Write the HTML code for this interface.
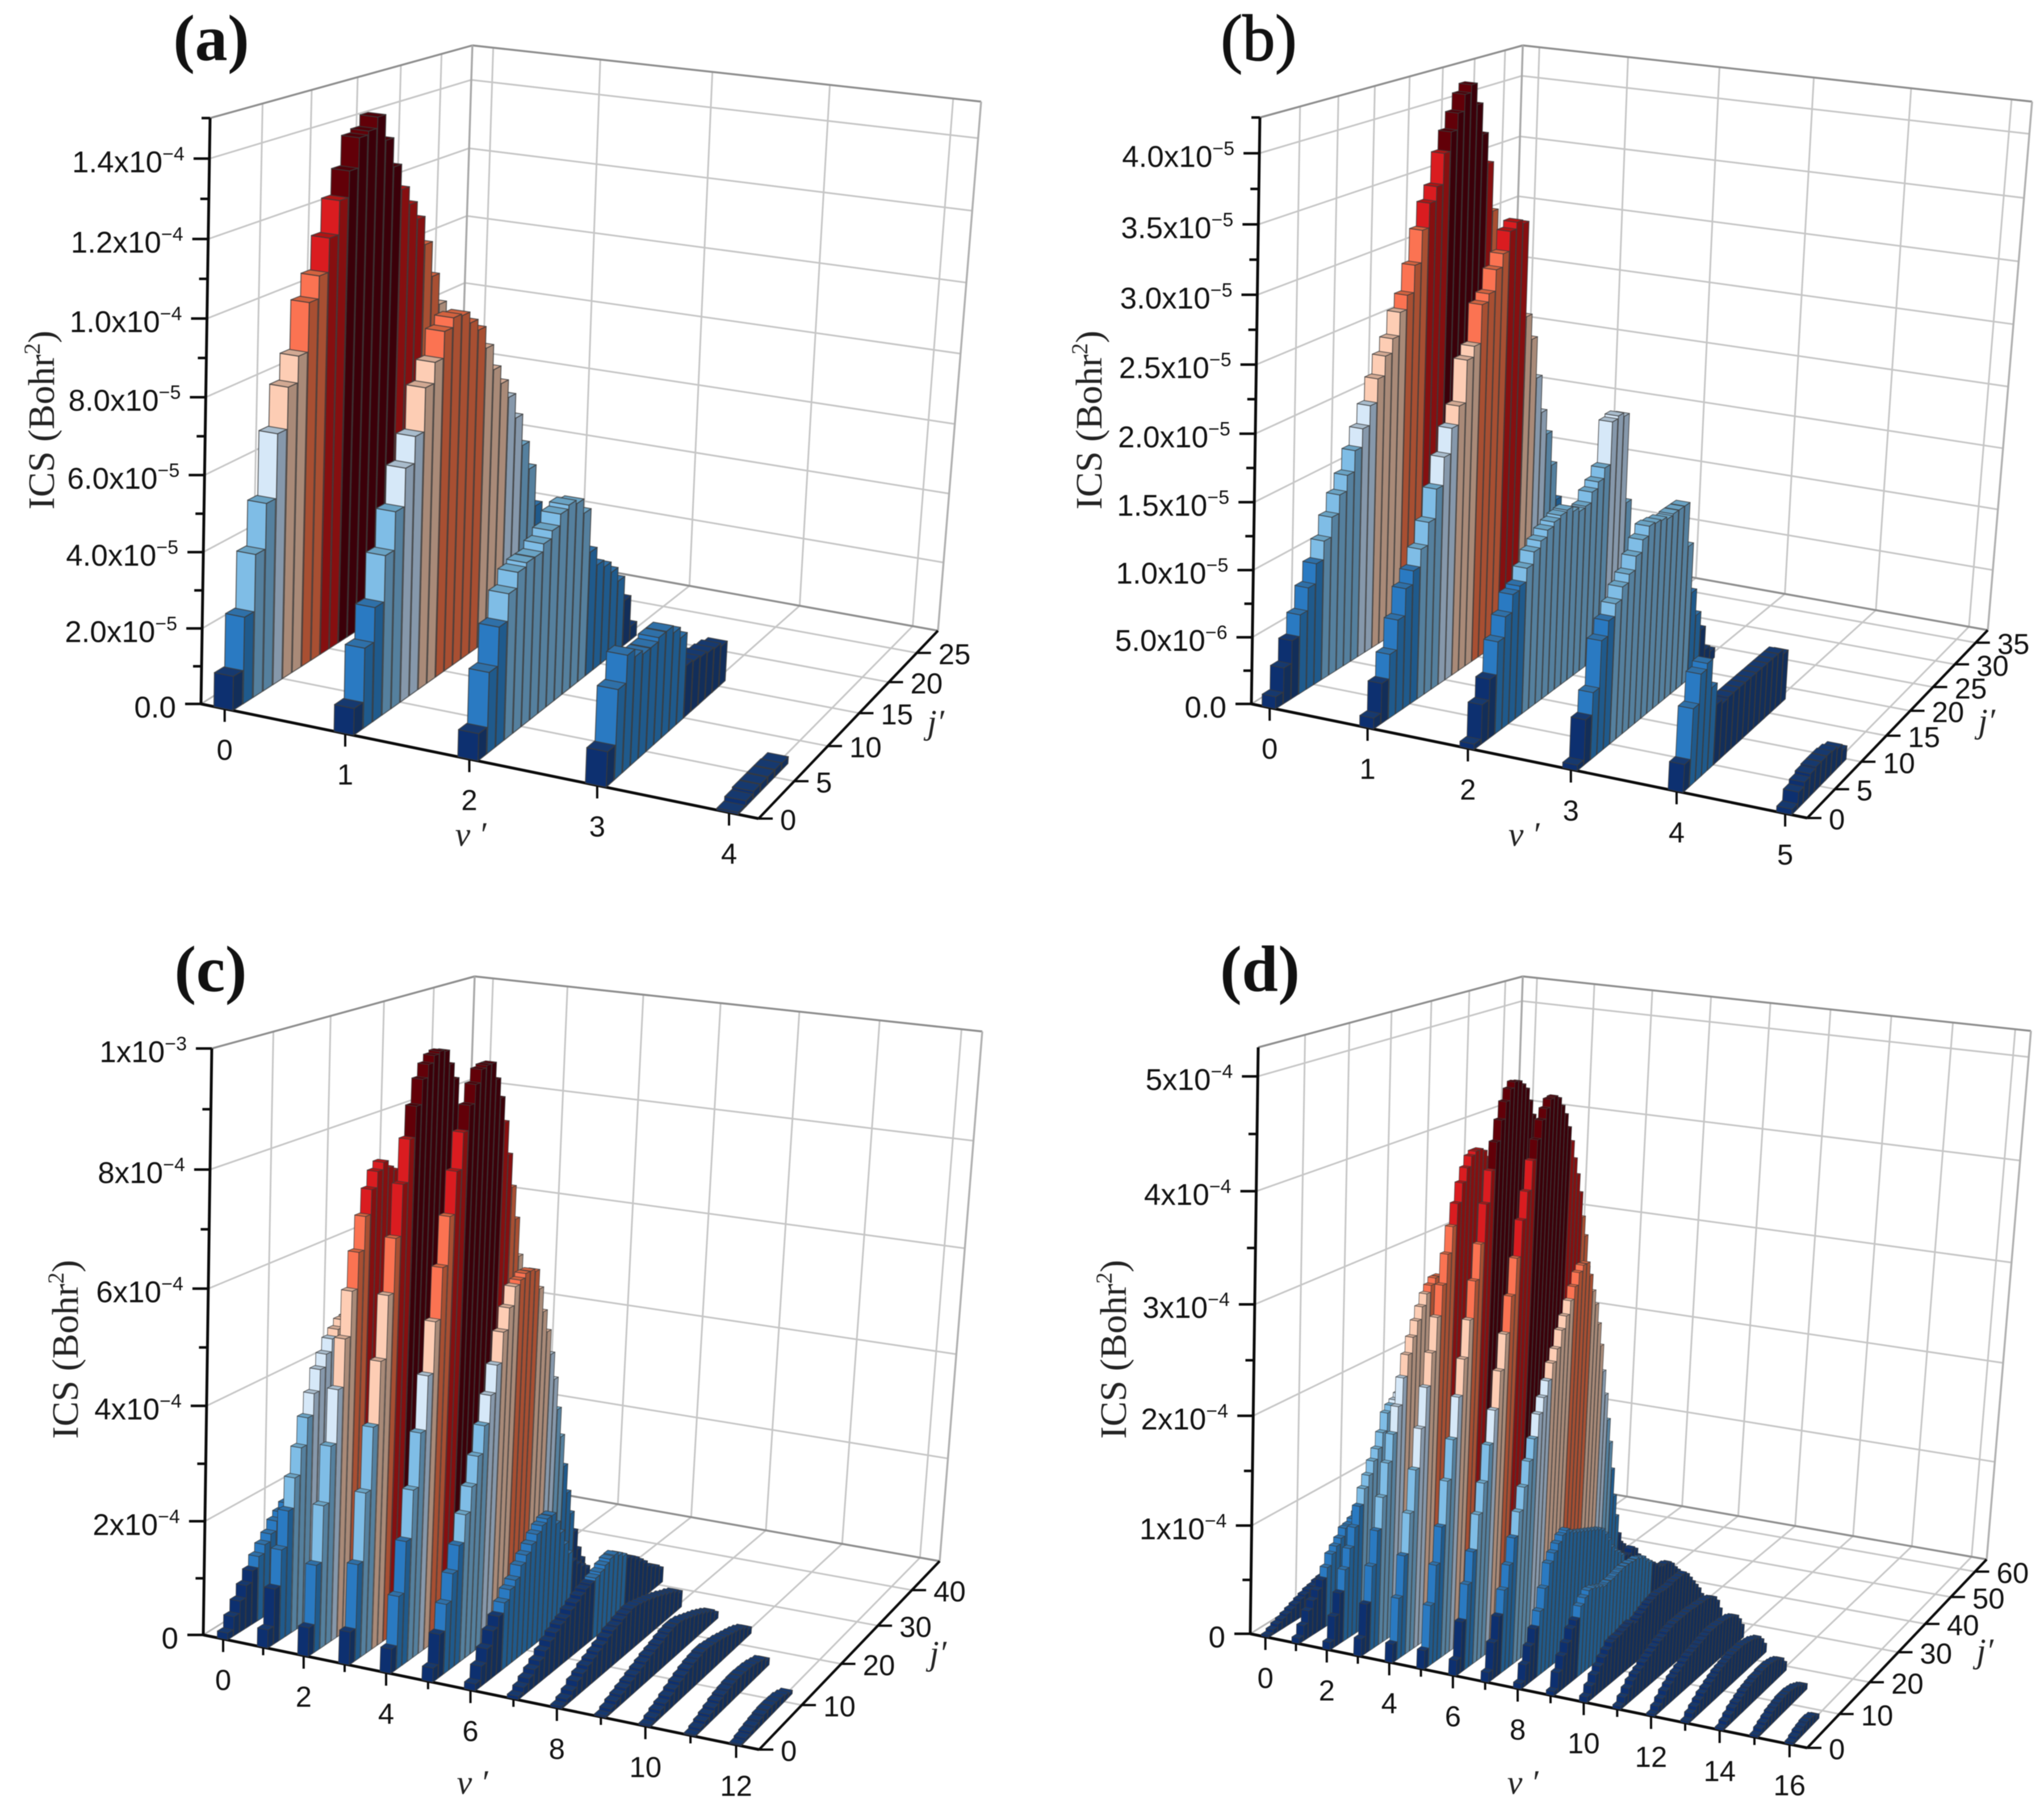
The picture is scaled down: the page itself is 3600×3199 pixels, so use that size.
<!DOCTYPE html>
<html lang="en">
<head>
<meta charset="utf-8">
<title>ICS bar charts</title>
<style>
html,body{margin:0;padding:0;background:#fff;}
svg{display:block;filter:blur(0.7px);}
.num{font-family:"Liberation Sans",Arial,sans-serif;fill:#111;}
.ser{font-family:"Liberation Serif","Times New Roman",serif;fill:#222;}
</style>
</head>
<body>
<svg id="figure" xmlns="http://www.w3.org/2000/svg" width="3600" height="3199" viewBox="0 0 3600 3199">
<rect width="3600" height="3199" fill="#fff"/>
</svg>
<script>
// ---- panel (a): ICS in units of 1e-5 Bohr^2, one array per v', index = j'
const a_v0=[.9,2.3,3.8,5.0,6.7,7.8,8.5,9.8,10.4,11.3,12.2,12.9,13.7,13.8,14.1,13.4,12.6,11.9,11.4,10.9,10.1,9.1,8.2,7.0,5.5,4.0,2.0];
const a_v1=[.7,2.1,3.0,4.2,5.2,6.2,6.9,8.05,8.6,9.3,9.55,9.5,9.2,8.9,8.3,7.6,7.1,6.6,5.9,5.0,4.2,3.0,1.5];
const a_v2=[.7,2.1,3.1,3.8,4.2,4.3,4.3,4.5,4.7,5.0,5.1,5.0,4.6,3.4,2.9,2.7,2.4,2.0,1.3,.4];
const a_v3=[.9,2.3,3.0,2.8,2.7,2.7,2.8,2.8,2.6,2.3,1.4,1.35,1.3,1.25,1.2,1.1];
const a_v4=[.05,.15,.2,.2,.2,.2,.18];
const a_yTicks=[0,2,4,6,8,10,12,14];
const a_yMinor=[1,3,5,7,9,11,13,15];
const a_yMant=["0.0","2.0x10","4.0x10","6.0x10","8.0x10","1.0x10","1.2x10","1.4x10"];
const a_yExp=["","\u22125","\u22125","\u22125","\u22125","\u22124","\u22124","\u22124"];
const a_vTicks=[0,1,2,3,4];
const a_vLabels=[0,1,2,3,4];
const a_jTicks=[0,5,10,15,20,25];

// ---- panel (b): units of 1e-5
const b_v0=[.09,.27,.44,.6,.77,.92,1.06,1.21,1.35,1.47,1.63,1.77,1.92,2.1,2.25,2.36,2.54,2.65,2.86,3.11,3.3,3.41,3.65,3.8,3.93,4.06,4.12,3.95,3.7,3.45,3.05,2.8,2.4,1.9,1.5,1.0,.5];
const b_v1=[.08,.3,.48,.7,.9,1.0,1.13,1.3,1.52,1.73,1.92,2.06,2.38,2.46,2.75,2.81,2.97,3.07,3.22,3.27,3.24,2.5,2.3,1.97,1.67,1.47,1.19,.88,.6,.4,.3,.2];
const b_v2=[.04,.29,.44,.68,.83,.96,.99,1.09,1.18,1.23,1.28,1.31,1.33,1.34,1.3,1.27,1.28,1.36,1.41,1.49,1.82,1.84,1.81,1.1,.7,.4,.2];
const b_v3=[.04,.33,.49,.83,.94,1.03,1.12,1.18,1.28,1.37,1.44,1.43,1.42,1.40,1.41,1.41,1.41,1.07,.68,.47,.32,.13,.08];
const b_v4=[.2,.56,.77,.81,.6,.44,.41,.42,.42,.42,.42,.42,.42,.42,.42,.42,.42,.38];
const b_v5=[.04,.12,.15,.17,.18,.18,.18,.17,.15,.1];
const b_yTicks=[0,.5,1,1.5,2,2.5,3,3.5,4];
const b_yMinor=[.25,.75,1.25,1.75,2.25,2.75,3.25,3.75,4.25];
const b_yMant=["0.0","5.0x10","1.0x10","1.5x10","2.0x10","2.5x10","3.0x10","3.5x10","4.0x10"];
const b_yExp=["","\u22126","\u22125","\u22125","\u22125","\u22125","\u22125","\u22125","\u22125"];
const b_vTicks=[0,1,2,3,4,5];
const b_vLabels=[0,1,2,3,4,5];
const b_jTicks=[0,5,10,15,20,25,30,35];

// ---- panel (c): units of 1e-4
const c_v0=[.12,.34,.55,.76,.96,1.15,1.3,1.43,1.6,1.7,1.8,1.9,2.0,2.1,2.15,2.15,2.1,2.0,1.8,1.6,1.4,1.2,1.0,.8,.6,.4,.3,.2,.1];
const c_v1=[.32,.97,1.59,2.21,2.73,3.2,3.67,4.04,4.41,4.63,4.85,4.97,5.09,5.11,5.08,4.9,4.72,4.4,4.0,3.55,3.1,2.6,2.15,1.7,1.3,.95,.65,.4,.2,.1];
const c_v2=[.5,1.52,2.49,3.46,4.38,5.2,5.97,6.59,7.16,7.58,7.85,7.97,7.84,7.76,7.48,7.1,6.62,6.0,5.3,4.55,3.9,3.25,2.65,2.1,1.65,1.25,.9,.6,.4,.25,.1];
const c_v3=[.57,1.67,2.84,3.91,4.98,6.05,6.97,7.84,8.56,9.08,9.5,9.72,9.84,9.88,9.85,9.6,9.32,8.8,8.2,7.5,6.8,5.95,5.1,4.25,3.4,2.7,2.05,1.55,1.1,.7,.4,.2,.1];
const c_v4=[.42,1.26,2.14,2.96,3.88,4.8,5.67,6.54,7.36,8.08,8.7,9.12,9.44,9.66,9.7,9.7,9.4,9.05,8.6,8.0,7.4,6.8,6.1,5.4,4.7,4.05,3.3,2.65,2.05,1.5,1.0,.6,.3];
const c_v5=[.24,.75,1.2,1.66,2.08,2.55,2.97,3.44,3.91,4.38,4.85,5.37,5.74,6.06,6.13,6.2,6.2,6.15,5.8,5.35,4.95,4.5,4.0,3.4,2.85,2.25,1.7,1.25,.85,.45,.2];
const c_v6=[.12,.35,.58,.82,1.0,1.17,1.33,1.43,1.62,1.74,1.86,1.98,2.07,2.13,2.13,1.92,1.7,1.43,1.2,1.0,.88,.78,.68,.46,.25,.1];
const c_v7=[.06,.14,.22,.3,.38,.48,.58,.66,.73,.77,.85,.91,.97,1.02,1.05,1.09,1.13,1.19,1.24,1.25,1.18,1.1,1.0,.93,.85,.75,.65,.53,.45,.38,.28];
const c_v8=[.04,.09,.16,.25,.31,.37,.42,.47,.52,.58,.63,.65,.69,.72,.74,.73,.7,.67,.64,.6,.56,.52,.47,.43,.38,.3];
const c_v9=[.03,.08,.13,.17,.21,.25,.29,.33,.37,.41,.44,.47,.51,.54,.56,.56,.54,.5,.46,.42,.38,.33,.28,.22,.12];
const c_v10=[.03,.08,.13,.17,.22,.27,.32,.36,.40,.43,.45,.47,.47,.45,.43,.41,.38,.35,.32,.29,.25,.2,.12];
const c_v11=[.02,.06,.1,.14,.18,.22,.25,.27,.29,.3,.3,.29,.28,.26,.23,.2,.12];
const c_v12=[.02,.05,.08,.1,.12,.14,.15,.15,.14,.13,.1,.06];
const c_yTicks=[0,2,4,6,8,10];
const c_yMinor=[1,3,5,7,9];
const c_yMant=["0","2x10","4x10","6x10","8x10","1x10"];
const c_yExp=["","\u22124","\u22124","\u22124","\u22124","\u22123"];
const c_vTicks=[0,2,4,6,8,10,12];
const c_vLabels=[0,2,4,6,8,10,12];
const c_vMinor=[1,3,5,7,9,11];
const c_jTicks=[0,10,20,30,40];

// ---- panel (d): units of 1e-4
const d_v0=[.02,.045,.07,.09,.11,.13,.15,.17,.19,.21,.22,.24,.25,.26,.27,.27,.28,.28,.28,.27,.26,.25,.24,.22,.2,.18,.16,.14,.12,.1,.08,.06,.04,.02];
const d_v1=[.05,.14,.25,.32,.39,.46,.55,.65,.7,.75,.82,.83,.86,.9,.92,.95,.96,.97,.97,.96,.95,.92,.88,.84,.78,.72,.65,.58,.5,.42,.35,.28,.2,.14,.08];
const d_v2=[.07,.28,.47,.66,.83,1.0,1.17,1.31,1.41,1.52,1.61,1.74,1.9,1.95,1.98,2.02,2.02,2.0,1.95,1.9,1.85,1.78,1.7,1.6,1.5,1.4,1.28,1.15,1.05,.92,.8,.7,.6,.5,.4,.3,.22,.15,.08];
const d_v3=[.16,.45,.77,1.07,1.35,1.64,1.88,2.11,2.35,2.54,2.68,2.81,2.92,3.02,3.08,3.13,3.13,3.1,3.0,2.92,2.82,2.7,2.55,2.4,2.25,2.1,1.95,1.8,1.65,1.5,1.3,1.15,1.0,.85,.7,.55,.45,.32,.2,.1];
const d_v4=[.17,.56,.92,1.28,1.65,2.0,2.35,2.64,2.94,3.21,3.47,3.7,3.89,4.06,4.18,4.27,4.3,4.3,4.27,4.2,4.1,3.95,3.8,3.55,3.35,3.1,2.85,2.6,2.35,2.1,1.85,1.62,1.4,1.2,1.0,.85,.7,.55,.4,.3,.2,.12,.06];
const d_v5=[.17,.55,.89,1.21,1.6,1.95,2.31,2.63,2.96,3.29,3.6,3.94,4.22,4.46,4.64,4.79,4.89,4.94,4.93,4.89,4.84,4.72,4.58,4.42,4.22,4.02,3.77,3.5,3.25,2.95,2.65,2.35,2.05,1.75,1.5,1.25,1.05,.85,.68,.52,.4,.3,.2,.15,.1,.05];
const d_v6=[.14,.46,.77,1.04,1.35,1.61,1.93,2.22,2.55,2.86,3.18,3.5,3.82,4.06,4.32,4.49,4.65,4.74,4.81,4.82,4.79,4.71,4.62,4.49,4.35,4.18,4.02,3.84,3.6,3.41,3.1,2.8,2.5,2.2,1.9,1.6,1.35,1.1,.9,.72,.55,.42,.3,.2,.12,.07];
const d_v7=[.09,.33,.54,.75,.95,1.17,1.38,1.58,1.79,1.97,2.17,2.3,2.43,2.57,2.68,2.83,2.94,3.06,3.17,3.28,3.33,3.33,3.2,3.04,2.9,2.7,2.48,2.22,1.98,1.72,1.48,1.2,.92,.7,.5,.28,.1];
const d_v8=[.05,.19,.33,.46,.59,.77,.97,1.04,1.1,1.15,1.17,1.13,1.1,1.08,1.06,1.04,1.02,1.0,.98,.96,.93,.87,.79,.7,.64,.6,.55,.52,.5,.54,.5,.42,.37,.32,.27,.22,.16,.1,.05];
const d_v9=[.04,.18,.3,.39,.49,.54,.64,.69,.73,.72,.7,.68,.66,.67,.67,.68,.69,.7,.7,.7,.69,.69,.67,.65,.6,.56,.52,.48,.44,.42,.42,.4,.36,.3,.25,.2,.13,.07];
const d_v10=[.05,.12,.19,.24,.29,.33,.37,.38,.38,.39,.4,.41,.38,.4,.42,.44,.46,.47,.48,.48,.47,.47,.47,.48,.48,.48,.48,.44,.38,.32,.26,.2,.12,.06];
const d_v11=[.03,.08,.13,.17,.2,.22,.25,.27,.29,.31,.33,.34,.36,.37,.38,.38,.38,.38,.38,.38,.37,.37,.36,.36,.35,.33,.3,.24,.14];
const d_v12=[.02,.06,.1,.14,.17,.2,.22,.24,.26,.28,.29,.3,.31,.32,.33,.34,.34,.34,.33,.33,.32,.31,.29,.26,.2,.12];
const d_v13=[.02,.06,.09,.12,.15,.17,.19,.21,.23,.24,.25,.26,.27,.27,.27,.27,.26,.25,.24,.22,.2,.15,.08];
const d_v14=[.02,.05,.08,.11,.13,.15,.17,.18,.19,.2,.2,.21,.21,.21,.2,.19,.17,.14,.08];
const d_v15=[.02,.05,.07,.09,.11,.12,.13,.14,.14,.14,.13,.12,.1,.08,.05];
const d_v16=[.02,.04,.06,.07,.08,.08,.07,.04];
const d_yTicks=[0,1,2,3,4,5];
const d_yMinor=[.5,1.5,2.5,3.5,4.5];
const d_yMant=["0","1x10","2x10","3x10","4x10","5x10"];
const d_yExp=["","\u22124","\u22124","\u22124","\u22124","\u22124"];
const d_vTicks=[0,2,4,6,8,10,12,14,16];
const d_vLabels=[0,2,4,6,8,10,12,14,16];
const d_vMinor=[1,3,5,7,9,11,13,15];
const d_jTicks=[0,10,20,30,40,50,60];

// ---- layout (frame corners, separate from the data)
const panels=[
 {id:'a',title:'(a)',bold:true,tx:372,ty:106,series:[a_v0,a_v1,a_v2,a_v3,a_v4],yT:a_yTicks,yM:a_yMinor,yL:a_yMant,yE:a_yExp,vT:a_vTicks,vL:a_vLabels,vM:[],jT:a_jTicks,
  O:[354,1240],A:[1336,1442],B:[1652,1111],C:[804,958],Ot:[370,208],Bt:[1728,179],Ct:[832,80],
  vmin:-.2,vmax:4.22,jmax:29,zmax:15,barW:.16,barD:.92,sw:1.8,
  ytx:95,yty:740,vlx:829,vly:1490,jlx:1648,jly:1292},
 {id:'b',title:'(b)',bold:false,tx:2217,ty:106,series:[b_v0,b_v1,b_v2,b_v3,b_v4,b_v5],yT:b_yTicks,yM:b_yMinor,yL:b_yMant,yE:b_yExp,vT:b_vTicks,vL:b_vLabels,vM:[],jT:b_jTicks,
  O:[2204,1240],A:[3183,1441],B:[3501,1110],C:[2655,959],Ot:[2219,207],Bt:[3579,179],Ct:[2682,80],
  vmin:-.19,vmax:5.2,jmax:38,zmax:4.25,barW:.14,barD:.92,sw:1.5,
  ytx:1940,yty:740,vlx:2684,vly:1490,jlx:3499,jly:1290},
 {id:'c',title:'(c)',bold:true,tx:371,ty:1746,series:[c_v0,c_v1,c_v2,c_v3,c_v4,c_v5,c_v6,c_v7,c_v8,c_v9,c_v10,c_v11,c_v12],yT:c_yTicks,yM:c_yMinor,yL:c_yMant,yE:c_yExp,vT:c_vTicks,vL:c_vLabels,vM:c_vMinor,jT:c_jTicks,
  O:[358,2880],A:[1337,3082],B:[1655,2750],C:[807,2600],Ot:[373,1847],Bt:[1730,1817],Ct:[836,1720],
  vmin:-.5,vmax:12.5,jmax:48.7,zmax:10,barW:.26,barD:.88,sw:1.3,
  ytx:137,yty:2377,vlx:832,vly:3160,jlx:1652,jly:2932},
 {id:'d',title:'(d)',bold:true,tx:2219,ty:1746,series:[d_v0,d_v1,d_v2,d_v3,d_v4,d_v5,d_v6,d_v7,d_v8,d_v9,d_v10,d_v11,d_v12,d_v13,d_v14,d_v15,d_v16],yT:d_yTicks,yM:d_yMinor,yL:d_yMant,yE:d_yExp,vT:d_vTicks,vL:d_vLabels,vM:d_vMinor,jT:d_jTicks,
  O:[2202,2878],A:[3183,3079],B:[3499,2747],C:[2652,2599],Ot:[2216,1845],Bt:[3577,1816],Ct:[2682,1720],
  vmin:-.5,vmax:16.5,jmax:65,zmax:5.25,barW:.24,barD:.88,sw:1.1,
  ytx:1983,yty:2377,vlx:2682,vly:3160,jlx:3496,jly:2928}
];

// colormap levels: fraction of panel maximum -> face colours
const levelStops=[.11,.25,.4,.5,.62,.76,.89,1.01];
const frontColors=['#0d3070','#2a7ac2','#7fbde6','#d6e8f8','#fdcdb4','#fb7352','#da1c20','#620008'];
const sideColors=['#122e5a','#1f5a8c','#55809e','#8698ab','#a98a78','#a84f32','#860f10','#3b0009'];
const topColors=['#16396f','#2f70a8','#6aa3c4','#a9bccc','#d2a993','#d3623f','#b01414','#4e0008'];

const NS='http://www.w3.org/2000/svg';
const root=document.getElementById('figure');
function make(tag,attrs,parent){
  const e=document.createElementNS(NS,tag);
  for(const k in attrs)e.setAttribute(k,attrs[k]);
  parent.appendChild(e);
  return e;
}
function cross(p,q){return [p[1]*q[2]-p[2]*q[1],p[2]*q[0]-p[0]*q[2],p[0]*q[1]-p[1]*q[0]];}
function lineOf(p,q){return cross([p[0],p[1],1],[q[0],q[1],1]);}
function meet(l,m){return cross(l,m);}
function quadMap(p0,p1,p2,p3){
  const dx1=p1[0]-p2[0],dx2=p3[0]-p2[0],sx=p0[0]-p1[0]+p2[0]-p3[0];
  const dy1=p1[1]-p2[1],dy2=p3[1]-p2[1],sy=p0[1]-p1[1]+p2[1]-p3[1];
  const den=dx1*dy2-dx2*dy1;
  const g=(sx*dy2-dx2*sy)/den,h=(dx1*sy-sx*dy1)/den;
  const a=p1[0]-p0[0]+g*p1[0],b=p3[0]-p0[0]+h*p3[0],c=p0[0];
  const d=p1[1]-p0[1]+g*p1[1],e=p3[1]-p0[1]+h*p3[1],f=p0[1];
  return (u,t)=>{const w=g*u+h*t+1;return [(a*u+b*t+c)/w,(d*u+e*t+f)/w];};
}
function drawPanel(P){
  const g=make('g',{},root);
  
  
  // missing top-front-right corner from vanishing points
  const vpV=meet(lineOf(P.O,P.A),lineOf(P.C,P.B));
  const vpZ=meet(lineOf(P.O,P.Ot),lineOf(P.B,P.Bt));
  const l1=cross([P.Ot[0],P.Ot[1],1],vpV),l2=cross([P.A[0],P.A[1],1],vpZ);
  const h=meet(l1,l2);const At=[h[0]/h[2],h[1]/h[2]];
  const floor=quadMap(P.O,P.A,P.B,P.C),ceil=quadMap(P.Ot,At,P.Bt,P.Ct);
  const U=v=>(v-P.vmin)/(P.vmax-P.vmin),T=j=>j/P.jmax;
  const Zf=z=>{const f=z/P.zmax;return f/(1.04-.04*f);};
  const xyz=(v,j,z)=>{const a=floor(U(v),T(j)),b=ceil(U(v),T(j)),k=Zf(z);return [a[0]+k*(b[0]-a[0]),a[1]+k*(b[1]-a[1])];};
  const seg=(a,b,c,w,parent)=>make('line',{x1:a[0].toFixed(1),y1:a[1].toFixed(1),x2:b[0].toFixed(1),y2:b[1].toFixed(1),stroke:c,'stroke-width':w},parent);
  // title
  const title=make('text',{x:P.tx,y:P.ty,'text-anchor':'middle','font-size':115,'font-weight':P.bold?'bold':'normal',class:'ser',style:P.bold?'fill:#111':'fill:#111;stroke:#111;stroke-width:1.6'},g);
  title.textContent=P.title;
  
  
  // grid
  const grid=make('g',{fill:'none'},g);
  
  
  const GC='#c6c6c6',GW=3;
  P.yT.forEach(z=>{
    if(z===0)return;
    seg(xyz(P.vmin,0,z),xyz(P.vmin,P.jmax,z),GC,GW,grid);
    seg(xyz(P.vmin,P.jmax,z),xyz(P.vmax,P.jmax,z),GC,GW,grid);
  });
  P.jT.forEach(j=>{
    if(j===0)return;
    seg(xyz(P.vmin,j,0),xyz(P.vmin,j,P.zmax),GC,GW,grid);
    seg(xyz(P.vmin,j,0),xyz(P.vmax,j,0),GC,GW,grid);
  });
  P.vT.forEach(v=>{
    seg(xyz(v,0,0),xyz(v,P.jmax,0),GC,GW,grid);
    seg(xyz(v,P.jmax,0),xyz(v,P.jmax,P.zmax),GC,GW,grid);
  });
  const FC='#8e8e8e';
  seg(P.Ot,P.Ct,FC,3.5,grid);seg(P.Ct,P.Bt,FC,3.5,grid);
  seg(P.C,P.B,FC,3.5,grid);seg(P.O,P.C,'#b5b5b5',3,grid);
  seg(P.C,P.Ct,'#a8a8a8',3.5,grid);seg(P.B,P.Bt,'#b0b0b0',3.5,grid);
  // axes
  const axes=make('g',{},g);
  
  
  const yAxis=seg(P.O,P.Ot,'#0a0a0a',5,axes);
  
  
  const vAxis=seg(P.O,P.A,'#0a0a0a',5,axes);
  
  
  const jAxis=seg(P.A,P.B,'#0a0a0a',4.5,axes);
  
  
  P.yT.forEach((z,i)=>{
    const p=xyz(P.vmin,0,z);
    seg(p,[p[0]-28,p[1]],'#0a0a0a',4.5,axes);
    const t=make('text',{x:(p[0]-44).toFixed(1),y:(p[1]+24).toFixed(1),'text-anchor':'end','font-size':53,class:'num'},axes);
    
    
    const m=make('tspan',{},t);m.textContent=P.yL[i];
    if(P.yE[i]){const s=make('tspan',{dy:-21,'font-size':34},t);s.textContent=P.yE[i];}
  });
  P.yM.forEach(z=>{
    const p=xyz(P.vmin,0,z);
    seg(p,[p[0]-15,p[1]],'#0a0a0a',4.5,axes);
  });
  P.vT.forEach((v,i)=>{
    const p=xyz(v,0,0);
    seg(p,[p[0],p[1]+23],'#0a0a0a',4,axes);
    const t=make('text',{x:p[0].toFixed(1),y:(p[1]+90).toFixed(1),'text-anchor':'middle','font-size':51,class:'num'},axes);
    t.textContent=P.vL[i];
    
    
  });
  P.vM.forEach(v=>{
    const p=xyz(v,0,0);
    seg(p,[p[0],p[1]+14],'#0a0a0a',4,axes);
  });
  P.jT.forEach(j=>{
    const p=xyz(P.vmax,j,0);
    seg(p,[p[0]+25,p[1]],'#0a0a0a',4,axes);
    const t=make('text',{x:(p[0]+38).toFixed(1),y:(p[1]+20).toFixed(1),'font-size':51,class:'num'},axes);
    t.textContent=j;
    
    
  });
  const yt=make('text',{transform:'translate('+P.ytx+' '+P.yty+') rotate(-90)','text-anchor':'middle','font-size':66,class:'ser'},g);
  
  
  make('tspan',{},yt).textContent='ICS (Bohr';
  make('tspan',{dy:-25,'font-size':40},yt).textContent='2';
  make('tspan',{dy:25},yt).textContent=')';
  const vl=make('text',{x:P.vlx,y:P.vly,'text-anchor':'middle','font-size':60,'font-style':'italic',class:'ser'},g);
  vl.textContent='v \u2032';
  
  
  const jl=make('text',{x:P.jlx,y:P.jly,'text-anchor':'middle','font-size':60,'font-style':'italic',class:'ser'},g);
  jl.textContent='j\u2032';
  
  
  // bars: back-to-front
  const marks=make('g',{stroke:'#3a3a3a','stroke-opacity':.75,'stroke-width':P.sw,'stroke-linejoin':'round'},g);
  
  
  let dataMax=0;
  P.series.forEach(s=>s.forEach(x=>{if(x>dataMax)dataMax=x;}));
  const path=pts=>'M'+pts.map(p=>p[0].toFixed(1)+' '+p[1].toFixed(1)).join('L')+'Z';
  P.series.forEach((vals,v)=>{
    const v0=v-P.barW*.57,v1=v+P.barW*.43;
    for(let j=vals.length-1;j>=0;j--){
      const z=vals[j],j0=j,j1=j+P.barD;
      const f=z/dataMax;
      let li=0;while(f>=levelStops[li]&&li<7)li++;
      const bar=make('g',{},marks);
      
      
      make('path',{d:path([xyz(v1,j0,0),xyz(v1,j1,0),xyz(v1,j1,z),xyz(v1,j0,z)]),fill:sideColors[li]},bar);
      make('path',{d:path([xyz(v0,j0,0),xyz(v1,j0,0),xyz(v1,j0,z),xyz(v0,j0,z)]),fill:frontColors[li]},bar);
      make('path',{d:path([xyz(v0,j0,z),xyz(v1,j0,z),xyz(v1,j1,z),xyz(v0,j1,z)]),fill:topColors[li]},bar);
    }
  });
}
panels.forEach(drawPanel);
</script>
</body>
</html>
